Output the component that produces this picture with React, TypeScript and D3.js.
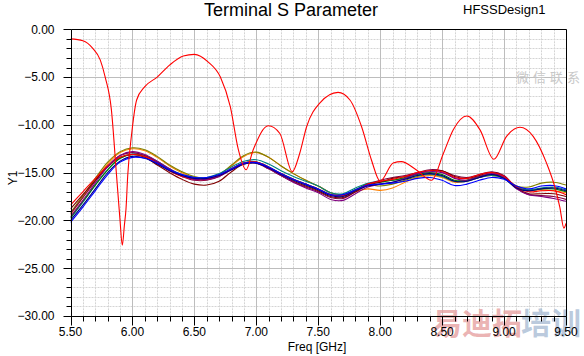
import React from "react";
import * as d3 from "d3";

const FREQ = [5.5,5.6,5.7,5.8,5.9,6.0,6.1,6.2,6.3,6.4,6.5,6.6,6.7,6.8,6.9,7.0,7.1,7.2,7.3,7.4,7.5,7.6,7.7,7.8,7.9,8.0,8.1,8.2,8.3,8.4,8.5,8.6,8.7,8.8,8.9,9.0,9.1,9.2,9.3,9.4,9.5];

const OLIVE = [-19.2,-17.4,-15.6,-13.9,-12.8,-12.4,-12.6,-13.3,-14.2,-14.9,-15.4,-15.6,-15.2,-14.2,-13.2,-12.85,-13.4,-14.3,-15.1,-15.8,-16.4,-17.1,-17.3,-16.8,-16.3,-16.4,-16.2,-15.8,-15.4,-15.2,-15.4,-15.9,-15.8,-15.4,-15.2,-15.5,-16.4,-16.5,-16.1,-16.0,-16.3];
const ORANGE = [-19.4,-17.6,-15.8,-14.1,-12.9,-12.5,-12.7,-13.4,-14.3,-15.0,-15.5,-15.6,-15.2,-14.3,-13.3,-12.9,-13.4,-14.3,-15.1,-15.8,-16.4,-17.1,-17.4,-17.0,-16.7,-16.85,-16.6,-16.0,-15.5,-15.3,-15.5,-16.0,-15.9,-15.5,-15.3,-15.6,-16.4,-16.8,-16.8,-16.9,-17.1];
const PURPLE = [-19.6,-17.9,-16.1,-14.4,-13.2,-12.8,-13.1,-13.8,-14.6,-15.3,-15.7,-15.7,-15.4,-14.7,-14.1,-14.0,-14.6,-15.3,-16.0,-16.6,-17.1,-17.8,-17.9,-17.2,-16.5,-16.2,-16.0,-15.6,-15.1,-14.9,-15.0,-15.6,-15.8,-15.4,-15.1,-15.5,-16.7,-17.3,-17.5,-17.7,-18.0];
const TEAL = [-19.8,-18.1,-16.3,-14.7,-13.5,-13.05,-13.2,-13.8,-14.6,-15.2,-15.5,-15.5,-15.1,-14.4,-13.8,-13.65,-14.1,-14.8,-15.4,-15.9,-16.4,-17.1,-17.2,-16.6,-16.1,-15.9,-15.8,-15.6,-15.3,-15.1,-15.4,-15.9,-15.9,-15.5,-15.3,-15.6,-16.5,-16.8,-16.6,-16.5,-16.8];
const GREEN = [-19.7,-18.0,-16.3,-14.7,-13.5,-13.1,-13.3,-13.9,-14.7,-15.3,-15.6,-15.6,-15.3,-14.6,-14.0,-13.9,-14.4,-15.1,-15.7,-16.2,-16.7,-17.3,-17.4,-16.8,-16.2,-16.0,-15.8,-15.5,-15.2,-15.0,-15.2,-15.8,-15.8,-15.4,-15.2,-15.6,-16.6,-16.9,-16.7,-16.7,-17.0];
const MAROON = [-19.3,-17.6,-15.9,-14.3,-13.2,-12.9,-13.2,-13.9,-14.8,-15.4,-15.8,-15.8,-15.4,-14.6,-14.0,-13.9,-14.5,-15.3,-16.0,-16.5,-17.0,-17.6,-17.7,-17.0,-16.2,-15.8,-15.5,-15.3,-15.0,-14.7,-14.8,-15.3,-15.5,-15.2,-14.9,-15.3,-16.6,-17.3,-17.4,-17.5,-17.8];
const DARKRED = [-18.8,-17.3,-15.8,-14.4,-13.4,-13.1,-13.4,-14.2,-15.0,-15.7,-16.2,-16.3,-15.9,-14.9,-14.1,-14.0,-14.6,-15.3,-15.9,-16.4,-16.9,-17.5,-17.6,-17.0,-16.3,-16.0,-15.6,-15.4,-15.1,-14.8,-14.8,-15.4,-15.6,-15.3,-15.0,-15.4,-16.6,-17.2,-17.2,-17.2,-17.5];
const RED2 = [-18.4,-17.0,-15.6,-14.3,-13.4,-13.1,-13.3,-14.0,-14.8,-15.4,-15.7,-15.7,-15.3,-14.6,-14.0,-13.9,-14.4,-15.1,-15.7,-16.2,-16.7,-17.3,-17.4,-16.9,-16.2,-15.9,-15.7,-15.4,-15.0,-14.8,-14.9,-15.5,-15.6,-15.2,-15.0,-15.4,-16.5,-17.0,-16.9,-16.9,-17.3];
const NAVY = [-20.0,-18.4,-16.7,-15.0,-13.8,-13.3,-13.5,-14.1,-14.8,-15.3,-15.6,-15.6,-15.3,-14.7,-14.1,-14.0,-14.5,-15.2,-15.8,-16.3,-16.8,-17.4,-17.5,-16.9,-16.4,-16.2,-16.0,-15.7,-15.3,-15.1,-15.3,-15.9,-15.9,-15.5,-15.2,-15.6,-16.6,-16.9,-16.7,-16.6,-16.9];
const BLUE = [-20.2,-18.6,-16.9,-15.2,-13.9,-13.4,-13.5,-14.0,-14.7,-15.2,-15.5,-15.5,-15.2,-14.6,-14.0,-13.95,-14.4,-15.1,-15.7,-16.2,-16.7,-17.3,-17.3,-16.8,-16.3,-16.2,-16.1,-15.9,-15.6,-15.5,-15.8,-16.35,-16.2,-15.8,-15.5,-15.7,-16.4,-16.7,-16.4,-16.35,-16.7];

const S11_FREQ = [5.5,5.6,5.68,5.74,5.78,5.83,5.87,5.9,5.918,5.935,5.948,5.962,5.994,6.034,6.1,6.2,6.3,6.41,6.5,6.61,6.71,6.79,6.855,6.917,6.975,7.097,7.19,7.29,7.35,7.406,7.514,7.66,7.756,7.85,7.93,8.0,8.105,8.17,8.29,8.415,8.51,8.59,8.7,8.805,8.918,9.02,9.128,9.235,9.343,9.41,9.45,9.483,9.5];
const S11 = [-1.0,-1.2,-2.0,-3.2,-5.0,-8.4,-15.0,-20.0,-22.6,-20.5,-18.8,-15.3,-10.9,-7.4,-6.0,-5.0,-3.75,-2.8,-2.62,-3.4,-5.0,-8.1,-12.6,-14.7,-12.6,-10.1,-10.9,-14.9,-13.0,-10.2,-7.7,-6.6,-7.4,-10.2,-13.7,-15.9,-14.0,-13.85,-14.7,-15.8,-13.0,-10.5,-9.07,-10.5,-13.6,-11.2,-10.25,-11.2,-14.0,-16.5,-18.6,-20.8,-20.3];

const CLUSTER = [
  { name: "orange", color: "#ff8000", values: ORANGE },
  { name: "olive", color: "#808000", values: OLIVE },
  { name: "teal", color: "#008080", values: TEAL },
  { name: "green", color: "#008000", values: GREEN },
  { name: "maroon", color: "#800040", values: MAROON },
  { name: "darkred", color: "#800000", values: DARKRED },
  { name: "red", color: "#ff0000", values: RED2 },
  { name: "purple", color: "#800080", values: PURPLE },
  { name: "navy", color: "#000080", values: NAVY },
  { name: "blue", color: "#0000ff", values: BLUE },
];

const X_TICKS = [5.5, 6.0, 6.5, 7.0, 7.5, 8.0, 8.5, 9.0, 9.5];
const Y_TICKS = [0, -5, -10, -15, -20, -25, -30];

const W = 584, H = 356;
const L = 70.5, R = 566, T = 29.3, B = 316;
const FONT = "'Liberation Sans', Arial, sans-serif";

export default function App() {
  const x = d3.scaleLinear().domain([5.5, 9.5]).range([L, R]);
  const y = d3.scaleLinear().domain([0, -30]).range([T, B]);
  const px = (v: number) => Math.round(v) + 0.5;

  const minorX = d3.range(0, 41).map((i) => 5.5 + i * 0.1);
  const minorY = d3.range(0, 31).map((i) => -i);

  const lineC = d3
    .line<number>()
    .x((_, i) => x(FREQ[i]))
    .y((d) => y(d))
    .curve(d3.curveCatmullRom.alpha(0.5));
  const lineS = d3
    .line<number>()
    .x((_, i) => x(S11_FREQ[i]))
    .y((d) => y(d))
    .curve(d3.curveMonotoneX);

  return (
    <div style={{ position: "fixed", left: 0, top: 0 }}>
      <svg width={W} height={H} style={{ display: "block", background: "#fff" }}>
        <defs>
          <clipPath id="plot">
            <rect x={L} y={T} width={R - L} height={B - T} />
          </clipPath>
        </defs>
        {/* minor grid */}
        {minorX.map((f, i) =>
          i % 5 === 0 ? null : (
            <line key={"mx" + i} x1={px(x(f))} x2={px(x(f))} y1={T} y2={B} stroke="#d4d4d4" strokeDasharray="2,1" />
          )
        )}
        {minorY.map((v, i) =>
          i % 5 === 0 ? null : (
            <line key={"my" + i} x1={L} x2={R} y1={px(y(v))} y2={px(y(v))} stroke="#d4d4d4" strokeDasharray="2,1" />
          )
        )}
        {/* major grid */}
        {X_TICKS.map((f) => (
          <line key={"gx" + f} x1={px(x(f))} x2={px(x(f))} y1={T} y2={B} stroke="#bdbdbd" />
        ))}
        {Y_TICKS.map((v) => (
          <line key={"gy" + v} x1={L} x2={R} y1={px(y(v))} y2={px(y(v))} stroke="#bdbdbd" />
        ))}

        <g clipPath="url(#plot)">
          {CLUSTER.map((s) => (
            <path key={s.name} d={lineC(s.values) || ""} fill="none" stroke={s.color} strokeWidth={1.1} />
          ))}
          <path d={lineS(S11) || ""} fill="none" stroke="#ff0000" strokeWidth={1.1} />
        </g>

        {/* watermarks (behind labels) */}
        <text x={516} y={82} fontFamily="'Noto Sans CJK SC', sans-serif" fontSize={13} fill="#c8c8c8" letterSpacing={4}>
          微信联系
        </text>
        <text x={432} y={334} fontFamily="'Noto Sans CJK SC', sans-serif" fontSize={30} fontWeight={700} fill="#e6a0a0" fillOpacity={0.8}>
          易迪拓
        </text>
        <text x={521} y={334} fontFamily="'Noto Sans CJK SC', sans-serif" fontSize={30} fontWeight={700} fill="#a8bcd4" fillOpacity={0.8}>
          培训
        </text>

        {/* frame */}
        <line x1={px(L)} x2={px(R)} y1={px(T)} y2={px(T)} stroke="#000" />
        <line x1={px(R)} x2={px(R)} y1={px(T)} y2={px(B)} stroke="#000" />
        <line x1={px(L)} x2={px(L)} y1={px(T)} y2={px(B)} stroke="#000" />
        <line x1={px(L)} x2={px(R)} y1={px(B)} y2={px(B)} stroke="#000" />

        {/* ticks */}
        {minorY.map((v, i) => (
          <line key={"ty" + i} x1={px(L) - (i % 5 === 0 ? 8 : 5)} x2={px(L)} y1={px(y(v))} y2={px(y(v))} stroke="#000" />
        ))}
        {minorX.map((f, i) => (
          <line key={"tx" + i} x1={px(x(f))} x2={px(x(f))} y1={px(B)} y2={px(B) + (i % 5 === 0 ? 9 : 5)} stroke="#000" />
        ))}

        {/* labels */}
        {Y_TICKS.map((v) => (
          <text key={"ly" + v} x={54.5} y={y(v) + 4.3} textAnchor="end" fontFamily={FONT} fontSize={12} fill="#000">
            {d3.format(".2f")(v)}
          </text>
        ))}
        {X_TICKS.map((f) => (
          <text key={"lx" + f} x={x(f)} y={336} textAnchor="middle" fontFamily={FONT} fontSize={12} fill="#000">
            {d3.format(".2f")(f)}
          </text>
        ))}
        <text x={317} y={350.5} textAnchor="middle" fontFamily={FONT} fontSize={12} fill="#000">
          Freq [GHz]
        </text>
        <text transform="translate(17,178) rotate(-90)" textAnchor="middle" fontFamily={FONT} fontSize={12} fill="#000">
          Y1
        </text>
        <text x={291} y={16} textAnchor="middle" fontFamily={FONT} fontSize={18} fill="#000">
          Terminal S Parameter
        </text>
        <text x={463} y={14} fontFamily={FONT} fontSize={13} fill="#000">
          HFSSDesign1
        </text>
      </svg>
    </div>
  );
}
